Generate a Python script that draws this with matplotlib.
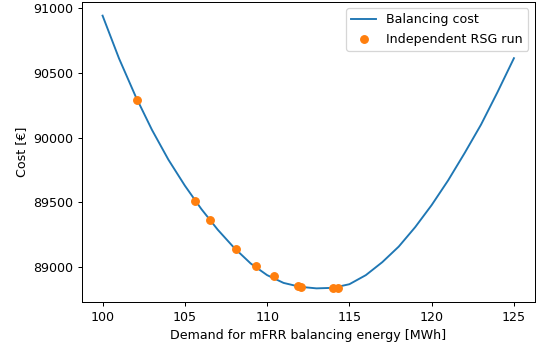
import matplotlib
matplotlib.use("Agg")
import matplotlib.pyplot as plt

# balancing cost curve
demand = [100, 101, 102, 103, 104, 105, 106, 107, 108, 109, 110, 111, 112,
          113, 114, 115, 116, 117, 118, 119, 120, 121, 122, 123, 124, 125]
cost = [90940, 90610, 90320, 90060, 89830, 89630, 89450, 89290, 89150, 89030,
        88940, 88880, 88850, 88838, 88842, 88870, 88940, 89040, 89160, 89310,
        89480, 89670, 89880, 90100, 90350, 90612]

# independent RSG runs
rsg_demand = [102.1, 105.6, 106.5, 108.1, 109.35, 110.4, 111.85, 112.05, 114.0, 114.3]
rsg_cost = [90290, 89513, 89364, 89140, 89012, 88934, 88856, 88852, 88842, 88844]

DPI = 91
fig = plt.figure(figsize=(537 / DPI, 345 / DPI), dpi=DPI)
ax = fig.add_axes([82 / 537, 1 - 302 / 345, (534.5 - 82) / 537, (302 - 2) / 345])
ax.plot(demand, cost, color="C0", label="Balancing cost")
ax.scatter(rsg_demand, rsg_cost, color="C1", label="Independent RSG run", zorder=3)
ax.set_xlabel("Demand for mFRR balancing energy [MWh]")
ax.set_ylabel("Cost [€]")
ax.legend(loc="upper right")
fig.savefig("out.png", dpi=DPI)
